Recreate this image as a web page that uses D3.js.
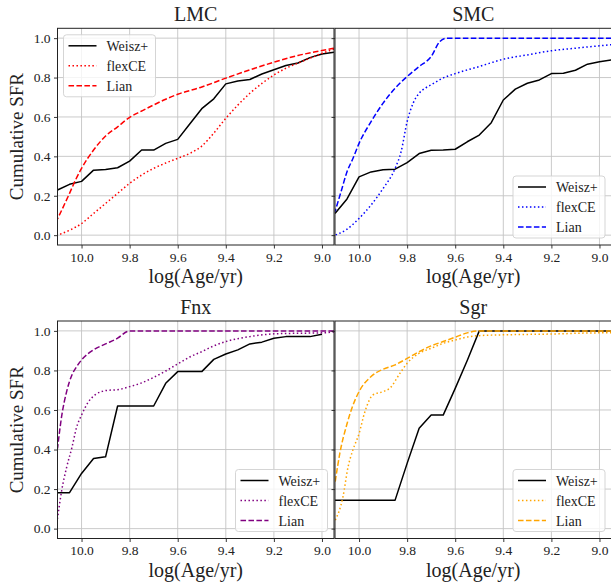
<!DOCTYPE html>
<html>
<head>
<meta charset="utf-8">
<script src="https://cdn.jsdelivr.net/npm/d3@7"></script>
<style>
  body { margin: 0; background: #fff; }
  text { font-family: "Liberation Serif", "DejaVu Serif", serif; fill: #222; }
</style>
</head>
<body>
<svg width="611" height="582"></svg>
<script>
// Weisz+ points sit on a regular age grid
var weiszAges = [10.1, 10.05, 10.0, 9.95, 9.9, 9.85, 9.8, 9.75, 9.7, 9.65, 9.6, 9.55,
  9.5, 9.45, 9.4, 9.35, 9.3, 9.25, 9.2, 9.15, 9.1, 9.05, 9.0, 8.95];

var lmcWeisz = [0.229, 0.258, 0.273, 0.33, 0.333, 0.342, 0.376, 0.432, 0.432, 0.466, 0.486, 0.564,
  0.642, 0.692, 0.768, 0.783, 0.79, 0.818, 0.84, 0.861, 0.874, 0.901, 0.92, 0.929];
var smcWeisz = [0.11, 0.184, 0.296, 0.321, 0.332, 0.335, 0.368, 0.414, 0.431, 0.432, 0.436, 0.474,
  0.508, 0.571, 0.686, 0.741, 0.771, 0.788, 0.82, 0.822, 0.837, 0.868, 0.88, 0.89];
var fnxWeisz = [0.182, 0.182, 0.279, 0.355, 0.363, 0.62, 0.62, 0.62, 0.62, 0.735, 0.794, 0.794,
  0.794, 0.856, 0.883, 0.904, 0.934, 0.943, 0.963, 0.971, 0.971, 0.971, 0.983, null];
var sgrWeisz = [0.144, 0.144, 0.144, 0.144, 0.144, 0.144, 0.33, 0.507, 0.574, 0.574, 0.709, 0.85,
  1.0, 1.0, 1.0, 1.0, 1.0, 1.0, 1.0, 1.0, 1.0, 1.0, 1.0, 1.0];

// model curves as [log age, cumulative SFR]
var lmcFlexce = [[10.1, 0.0], [10.05, 0.025], [10.0, 0.059], [9.95, 0.11], [9.9, 0.161], [9.85, 0.212],
  [9.8, 0.263], [9.75, 0.305], [9.7, 0.339], [9.65, 0.366], [9.6, 0.39], [9.55, 0.415], [9.5, 0.452],
  [9.45, 0.518], [9.4, 0.593], [9.35, 0.66], [9.3, 0.72], [9.25, 0.77], [9.2, 0.813], [9.15, 0.847],
  [9.1, 0.873], [9.05, 0.898], [9.0, 0.923], [8.95, 0.944]];
var lmcLian = [[10.1, 0.082], [10.05, 0.212], [10.025, 0.28], [10.0, 0.339], [9.95, 0.432], [9.9, 0.503],
  [9.85, 0.55], [9.8, 0.598], [9.75, 0.63], [9.7, 0.661], [9.65, 0.69], [9.6, 0.715], [9.5, 0.752],
  [9.4, 0.797], [9.3, 0.839], [9.2, 0.878], [9.1, 0.912], [9.0, 0.937], [8.95, 0.949]];

var smcFlexce = [[10.1, 0.0], [10.05, 0.03], [10.0, 0.085], [9.95, 0.153], [9.9, 0.237], [9.85, 0.339],
  [9.825, 0.424], [9.8, 0.576], [9.775, 0.67], [9.75, 0.72], [9.725, 0.746], [9.7, 0.763], [9.65, 0.798],
  [9.6, 0.82], [9.5, 0.856], [9.4, 0.893], [9.3, 0.915], [9.2, 0.936], [9.1, 0.949], [9.0, 0.961],
  [8.95, 0.967]];
var smcLian = [[10.1, 0.119], [10.075, 0.22], [10.05, 0.322], [10.025, 0.39], [10.0, 0.466], [9.95, 0.576],
  [9.9, 0.67], [9.85, 0.746], [9.8, 0.805], [9.75, 0.856], [9.7, 0.907], [9.664, 0.983], [9.636, 1.0],
  [9.6, 1.0], [9.4, 1.0], [9.2, 1.0], [9.0, 1.0], [8.95, 1.0]];

var fnxFlexce = [[10.1, 0.05], [10.083, 0.19], [10.062, 0.31], [10.04, 0.41], [10.02, 0.515], [10.0, 0.574],
  [9.972, 0.64], [9.944, 0.676], [9.9, 0.698], [9.844, 0.704], [9.8, 0.718], [9.75, 0.737], [9.7, 0.765],
  [9.65, 0.797], [9.6, 0.833], [9.55, 0.868], [9.5, 0.895], [9.45, 0.924], [9.4, 0.946], [9.3, 0.971],
  [9.2, 0.985], [9.1, 0.988], [9.0, 0.99], [8.95, 0.995]];
var fnxLian = [[10.1, 0.405], [10.083, 0.566], [10.062, 0.693], [10.04, 0.777], [10.02, 0.82], [10.0, 0.853],
  [9.95, 0.904], [9.9, 0.934], [9.85, 0.963], [9.81, 0.997], [9.8, 1.0], [9.6, 1.0], [9.4, 1.0],
  [9.2, 1.0], [9.0, 1.0], [8.95, 1.0]];

var sgrFlexce = [[10.1, 0.04], [10.067, 0.16], [10.046, 0.31], [10.025, 0.4], [10.0, 0.48], [9.976, 0.59],
  [9.942, 0.676], [9.9, 0.693], [9.872, 0.71], [9.83, 0.785], [9.8, 0.836], [9.75, 0.887], [9.7, 0.912],
  [9.65, 0.937], [9.6, 0.954], [9.54, 0.971], [9.5, 0.976], [9.4, 0.98], [9.2, 0.984], [9.0, 0.99],
  [8.95, 0.99]];
var sgrLian = [[10.1, 0.23], [10.08, 0.38], [10.05, 0.53], [10.025, 0.625], [10.0, 0.693], [9.95, 0.769],
  [9.9, 0.806], [9.85, 0.828], [9.8, 0.861], [9.75, 0.895], [9.7, 0.924], [9.65, 0.946], [9.6, 0.968],
  [9.55, 0.99], [9.5, 1.0], [9.4, 1.0], [9.2, 1.0], [9.0, 1.0], [8.95, 1.0]];

var xTicks = [10.0, 9.8, 9.6, 9.4, 9.2, 9.0];
var yTicks = [0.0, 0.2, 0.4, 0.6, 0.8, 1.0];
var seriesNames = ['Weisz+', 'flexCE', 'Lian'];

var panels = [
  { name: 'LMC', color: 'red', weisz: lmcWeisz, flexce: lmcFlexce, lian: lmcLian,
    box: [57.5, 334, 28.3, 245], legend: 'upper left', ylabels: true },
  { name: 'SMC', color: 'blue', weisz: smcWeisz, flexce: smcFlexce, lian: smcLian,
    box: [335, 611.5, 28.3, 245], legend: 'lower right', ylabels: false },
  { name: 'Fnx', color: 'purple', weisz: fnxWeisz, flexce: fnxFlexce, lian: fnxLian,
    box: [57.5, 334, 321, 538.5], legend: 'lower right', ylabels: true },
  { name: 'Sgr', color: 'orange', weisz: sgrWeisz, flexce: sgrFlexce, lian: sgrLian,
    box: [335, 611.5, 321, 538.5], legend: 'lower right', ylabels: false }
];

var lw = 1.5;
var dotted = (1 * lw) + ',' + (1.65 * lw);
var dashed = (3.7 * lw) + ',' + (1.6 * lw);

var svg = d3.select('svg');
svg.append('rect').attr('width', 611).attr('height', 582).attr('fill', '#fff');

panels.forEach(function(p, i) {
  var x = d3.scaleLinear().domain([10.1, 8.95]).range([p.box[0], p.box[1]]);
  var y = d3.scaleLinear().domain([-0.05, 1.05]).range([p.box[3], p.box[2]]);

  var clipId = 'clip' + i;
  svg.append('clipPath').attr('id', clipId)
    .append('rect')
    .attr('x', p.box[0]).attr('y', p.box[2])
    .attr('width', p.box[1] - p.box[0]).attr('height', p.box[3] - p.box[2]);

  var g = svg.append('g');

  // grid
  g.append('g').selectAll('line').data(xTicks).enter().append('line')
    .attr('x1', d => x(d)).attr('x2', d => x(d))
    .attr('y1', p.box[2]).attr('y2', p.box[3])
    .attr('stroke', '#c4c4c4').attr('stroke-width', 0.9);
  g.append('g').selectAll('line').data(yTicks).enter().append('line')
    .attr('y1', d => y(d)).attr('y2', d => y(d))
    .attr('x1', p.box[0]).attr('x2', p.box[1])
    .attr('stroke', '#c4c4c4').attr('stroke-width', 0.9);

  var lines = g.append('g').attr('clip-path', 'url(#' + clipId + ')');

  var weiszLine = d3.line()
    .defined(d => d[1] !== null)
    .x(d => x(d[0])).y(d => y(d[1]));
  var smooth = d3.line()
    .x(d => x(d[0])).y(d => y(d[1]))
    .curve(d3.curveMonotoneX);

  var asc = function(arr) { return arr.slice().sort((a, b) => a[0] - b[0]); };

  lines.append('path')
    .attr('d', weiszLine(weiszAges.map((a, k) => [a, p.weisz[k]])))
    .attr('fill', 'none').attr('stroke', 'black').attr('stroke-width', lw)
    .attr('stroke-linejoin', 'round');
  lines.append('path')
    .attr('d', smooth(asc(p.flexce)))
    .attr('fill', 'none').attr('stroke', p.color).attr('stroke-width', lw)
    .attr('stroke-dasharray', dotted);
  lines.append('path')
    .attr('d', smooth(asc(p.lian)))
    .attr('fill', 'none').attr('stroke', p.color).attr('stroke-width', lw)
    .attr('stroke-dasharray', dashed);

  // axes
  var xAxis = d3.axisBottom(x).tickValues(xTicks).tickFormat(d3.format('.1f'))
    .tickSize(3.5).tickPadding(3.5);
  var ax = g.append('g').attr('transform', 'translate(0,' + p.box[3] + ')').call(xAxis);
  var yAxis = d3.axisLeft(y).tickValues(yTicks).tickFormat(p.ylabels ? d3.format('.1f') : '')
    .tickSize(3.5).tickPadding(3.5);
  var ay = g.append('g').attr('transform', 'translate(' + p.box[0] + ',0)').call(yAxis);
  [ax, ay].forEach(function(a) {
    a.select('.domain').remove();
    a.selectAll('line').attr('stroke', '#222').attr('stroke-width', 0.9);
    a.selectAll('text').style('font-family', '"Liberation Serif", serif')
      .style('font-size', '13.5px').attr('fill', '#333');
  });

  // frame
  g.append('rect')
    .attr('x', p.box[0]).attr('y', p.box[2])
    .attr('width', p.box[1] - p.box[0]).attr('height', p.box[3] - p.box[2])
    .attr('fill', 'none').attr('stroke', '#222').attr('stroke-width', 1);

  var cx = (p.box[0] + p.box[1]) / 2;
  g.append('text').attr('x', cx).attr('y', p.box[2] - 7)
    .attr('text-anchor', 'middle').style('font-size', '20px').text(p.name);
  g.append('text').attr('x', cx).attr('y', p.box[3] + 38)
    .attr('text-anchor', 'middle').style('font-size', '20px').text('log(Age/yr)');
  if (p.ylabels) {
    var cy = (p.box[2] + p.box[3]) / 2;
    g.append('text')
      .attr('transform', 'translate(23,' + cy + ') rotate(-90)')
      .attr('text-anchor', 'middle').style('font-size', '19px').text('Cumulative SFR');
  }

  // legend
  var lgW = 92, lgH = 62;
  var lx = p.legend === 'upper left' ? p.box[0] + 6 : p.box[1] - lgW - 6.5;
  var ly = p.legend === 'upper left' ? p.box[2] + 6.5 : p.box[3] - lgH - 7;
  var lg = g.append('g').attr('transform', 'translate(' + lx + ',' + ly + ')');
  lg.append('rect').attr('width', lgW).attr('height', lgH).attr('rx', 3)
    .attr('fill', 'white').attr('fill-opacity', 0.8)
    .attr('stroke', '#d0d0d0').attr('stroke-width', 0.9);
  var styles = [
    { color: 'black', dash: null },
    { color: p.color, dash: dotted },
    { color: p.color, dash: dashed }
  ];
  seriesNames.forEach(function(n, k) {
    var ry = 11 + k * 20;
    lg.append('line').attr('x1', 5).attr('x2', 33).attr('y1', ry).attr('y2', ry)
      .attr('stroke', styles[k].color).attr('stroke-width', lw)
      .attr('stroke-dasharray', styles[k].dash);
    lg.append('text').attr('x', 43).attr('y', ry + 5)
      .style('font-size', '14px').text(n);
  });
});
</script>
</body>
</html>
